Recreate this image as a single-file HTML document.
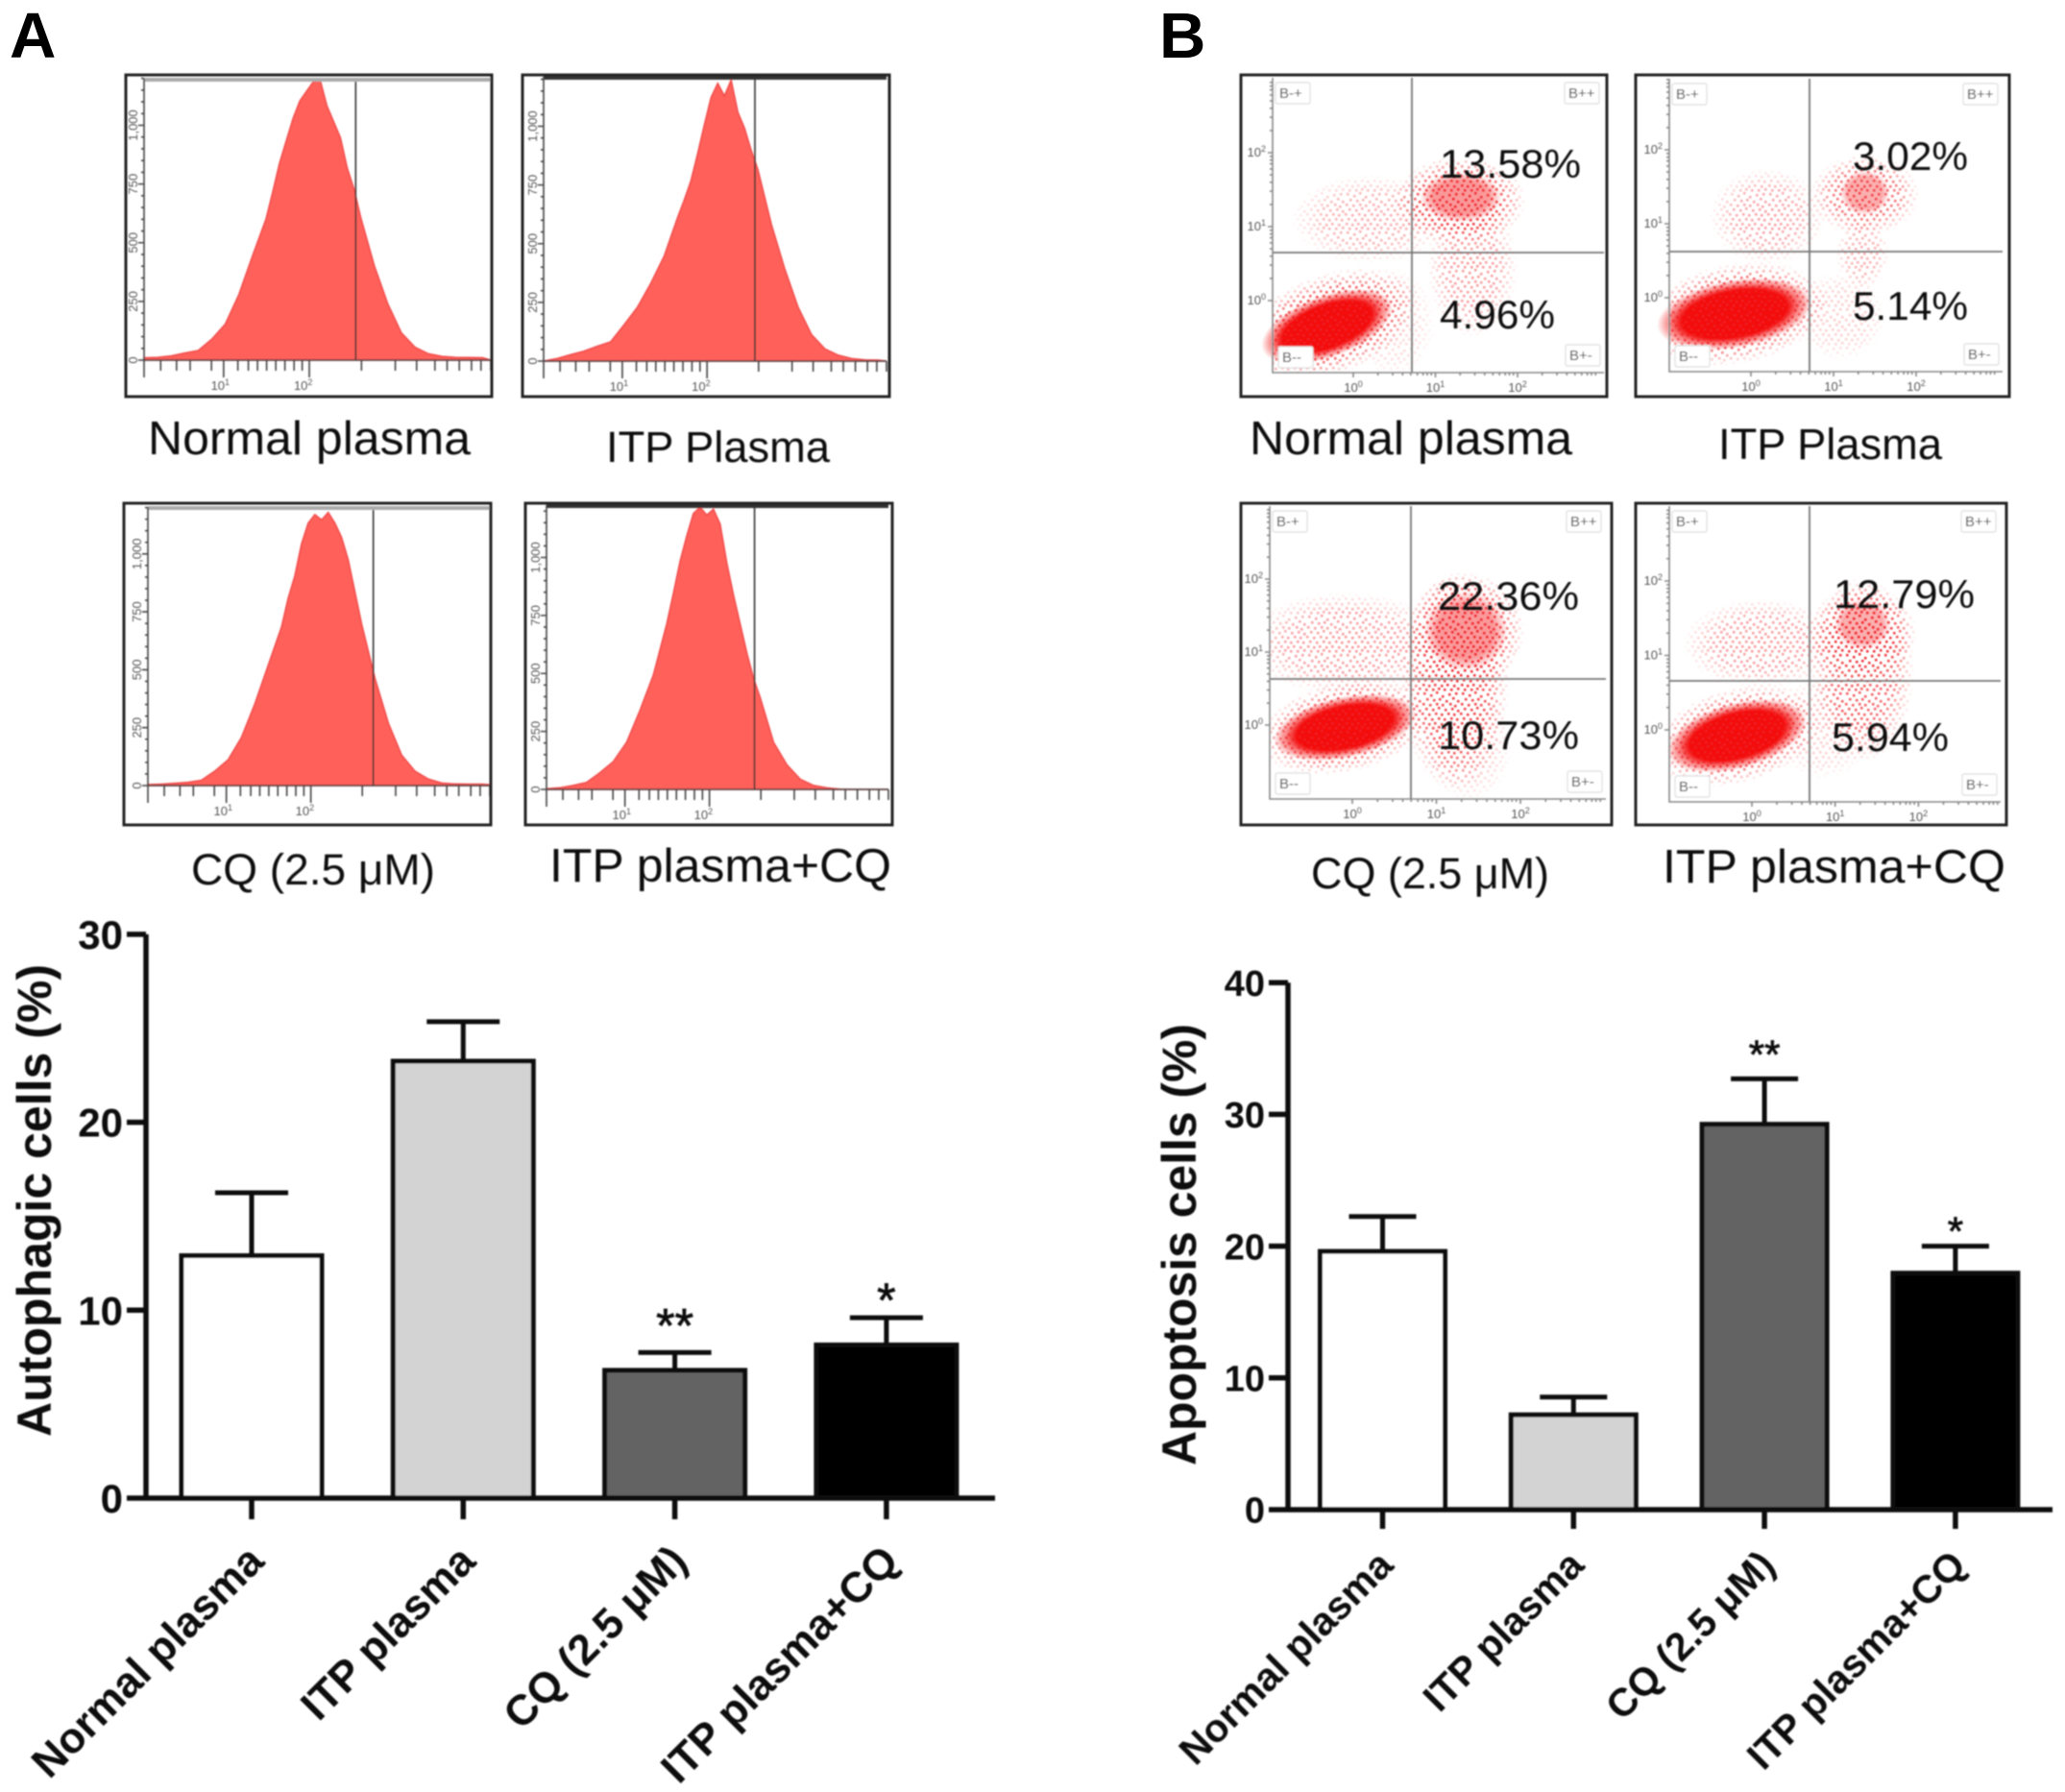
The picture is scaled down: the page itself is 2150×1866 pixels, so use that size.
<!DOCTYPE html>
<html lang="en">
<head>
<meta charset="utf-8">
<title>Autophagy and apoptosis figure</title>
<style>
html,body{margin:0;padding:0;background:#fff;}
svg{display:block;font-family:"Liberation Sans",Arial,sans-serif;}
.cap{font-size:46px;fill:#0d0d0d;filter:url(#soft);}
.pct{font-size:42px;fill:#0d0d0d;filter:url(#soft);}
.tiny{font-size:13px;fill:#555;}
</style>
</head>
<body>
<svg id="root" xmlns="http://www.w3.org/2000/svg" width="2150" height="1866" viewBox="0 0 2150 1866">
<defs>
  <filter id="soft" x="-5%" y="-5%" width="110%" height="110%"><feGaussianBlur stdDeviation="0.7"/></filter>
  <radialGradient id="fadeRed">
    <stop offset="0" stop-color="#f40f0f"/>
    <stop offset="0.68" stop-color="#f40f0f"/>
    <stop offset="1" stop-color="#f40f0f" stop-opacity="0"/>
  </radialGradient>
  <radialGradient id="fadeWhite">
    <stop offset="0" stop-color="#fff"/>
    <stop offset="0.6" stop-color="#fff" stop-opacity="0.85"/>
    <stop offset="1" stop-color="#fff" stop-opacity="0"/>
  </radialGradient>
  <pattern id="speckle" width="40" height="40" patternUnits="userSpaceOnUse">
    <path fill="#ee1e22" d="M2 1h2.5v2.5h-2.5zM9 3h2.5v2.5h-2.5zM15 0h2.5v2.5h-2.5zM21 4h2.5v2.5h-2.5zM28 2h2.5v2.5h-2.5zM35 1h2.5v2.5h-2.5zM5 7h2.5v2.5h-2.5zM12 8h2.5v2.5h-2.5zM18 7h2.5v2.5h-2.5zM25 9h2.5v2.5h-2.5zM32 6h2.5v2.5h-2.5zM37 9h2.5v2.5h-2.5zM1 12h2.5v2.5h-2.5zM8 13h2.5v2.5h-2.5zM15 12h2.5v2.5h-2.5zM21 13h2.5v2.5h-2.5zM29 12h2.5v2.5h-2.5zM34 14h2.5v2.5h-2.5zM4 17h2.5v2.5h-2.5zM11 18h2.5v2.5h-2.5zM17 16h2.5v2.5h-2.5zM24 18h2.5v2.5h-2.5zM31 17h2.5v2.5h-2.5zM37 19h2.5v2.5h-2.5zM0 22h2.5v2.5h-2.5zM7 23h2.5v2.5h-2.5zM14 22h2.5v2.5h-2.5zM20 23h2.5v2.5h-2.5zM27 22h2.5v2.5h-2.5zM33 23h2.5v2.5h-2.5zM3 27h2.5v2.5h-2.5zM10 28h2.5v2.5h-2.5zM17 27h2.5v2.5h-2.5zM23 28h2.5v2.5h-2.5zM30 27h2.5v2.5h-2.5zM36 28h2.5v2.5h-2.5zM1 32h2.5v2.5h-2.5zM7 33h2.5v2.5h-2.5zM13 32h2.5v2.5h-2.5zM20 33h2.5v2.5h-2.5zM26 32h2.5v2.5h-2.5zM33 33h2.5v2.5h-2.5zM4 37h2.5v2.5h-2.5zM11 37h2.5v2.5h-2.5zM17 36h2.5v2.5h-2.5zM23 37h2.5v2.5h-2.5zM30 37h2.5v2.5h-2.5zM37 36h2.5v2.5h-2.5z"/>
  </pattern>
</defs>

<rect x="0" y="0" width="2150" height="1866" fill="#fff"/>

<text x="10" y="60" font-size="67" font-weight="700" fill="#000">A</text>
<text x="1207" y="60" font-size="67" font-weight="700" fill="#000">B</text>

<g id="histograms" filter="url(#soft)"></g>
<g id="scatters" filter="url(#soft)"></g>

<g>
  <text class="cap" x="154" y="473" style="font-size:49px" textLength="336" lengthAdjust="spacingAndGlyphs">Normal plasma</text>
  <text class="cap" x="631" y="481" style="font-size:45px" textLength="233" lengthAdjust="spacingAndGlyphs">ITP Plasma</text>
  <text class="cap" x="199" y="921" style="font-size:45px" textLength="254" lengthAdjust="spacingAndGlyphs">CQ (2.5 μM)</text>
  <text class="cap" x="572" y="918" style="font-size:49px" textLength="356" lengthAdjust="spacingAndGlyphs">ITP plasma+CQ</text>
</g>
<g>
  <text class="cap" x="1301" y="473" style="font-size:49px" textLength="336" lengthAdjust="spacingAndGlyphs">Normal plasma</text>
  <text class="cap" x="1789" y="478" style="font-size:45px" textLength="233" lengthAdjust="spacingAndGlyphs">ITP Plasma</text>
  <text class="cap" x="1365" y="925" style="font-size:45px" textLength="248" lengthAdjust="spacingAndGlyphs">CQ (2.5 μM)</text>
  <text class="cap" x="1731" y="919" style="font-size:49px" textLength="357" lengthAdjust="spacingAndGlyphs">ITP plasma+CQ</text>
</g>

<g>
  <text class="pct" x="1499" y="185" textLength="147" lengthAdjust="spacingAndGlyphs">13.58%</text>
  <text class="pct" x="1499" y="342" textLength="120" lengthAdjust="spacingAndGlyphs">4.96%</text>
  <text class="pct" x="1929" y="177" textLength="120" lengthAdjust="spacingAndGlyphs">3.02%</text>
  <text class="pct" x="1929" y="333" textLength="120" lengthAdjust="spacingAndGlyphs">5.14%</text>
  <text class="pct" x="1497" y="635" textLength="147" lengthAdjust="spacingAndGlyphs">22.36%</text>
  <text class="pct" x="1497" y="780" textLength="147" lengthAdjust="spacingAndGlyphs">10.73%</text>
  <text class="pct" x="1909" y="633" textLength="147" lengthAdjust="spacingAndGlyphs">12.79%</text>
  <text class="pct" x="1907" y="782" textLength="122" lengthAdjust="spacingAndGlyphs">5.94%</text>
</g>

<g id="barA" filter="url(#soft)"></g>
<g id="barB" filter="url(#soft)"></g>
</svg>

<script>
/* ---------- Bar chart data ---------- */
const barCategories = ['Normal plasma', 'ITP plasma', 'CQ (2.5 μM)', 'ITP plasma+CQ'];
const barFills = ['#ffffff', '#d3d3d3', '#636363', '#000000'];
const barStars = ['', '', '**', '*'];
const autophagicMeans = [12.9, 23.25, 6.8, 8.15];
const autophagicErrors = [3.35, 2.1, 0.95, 1.45];
const autophagicTicks = [0, 10, 20, 30];
const apoptosisMeans = [19.6, 7.2, 29.25, 17.95];
const apoptosisErrors = [2.65, 1.35, 3.45, 2.05];
const apoptosisTicks = [0, 10, 20, 30, 40];

/* ---------- Histogram data (counts per channel bin) ---------- */
const histChannels = [0,40,80,120,160,200,240,280,320,360,380,400,420,440,460,480,500,520,540,560,580,600,620,640,680,720,760,800,840,880,920,960,1000,1024];
const histNormal = [10,12,18,30,41,89,154,279,443,600,716,838,934,1029,1104,1145,1186,1193,1083,1015,947,818,729,607,402,239,116,55,27,16,12,11,10,0];
const histItp = [0,11,27,42,63,82,154,229,331,447,529,611,686,768,883,1006,1122,1183,1129,1197,1060,992,897,815,583,393,229,113,52,25,11,5,4,0];
const histCq = [4,6,10,14,23,62,111,207,352,518,601,684,808,905,1043,1133,1170,1147,1179,1133,1071,974,836,698,463,270,131,62,28,11,7,6,6,4];
const histItpCq = [3,7,17,30,72,120,203,341,493,713,845,983,1093,1190,1217,1183,1208,1144,976,838,713,589,479,396,203,106,44,17,7,1,0,0,0,0];
const histCountTicks = [0, 250, 500, 750, 1000];
const histCountLabels = ['0', '250', '500', '750', '1,000'];
const histMinorChannels = [0,49,96,136,199,235,277,308,335,362,389,416,443,467,488,642,742,805,859,895,931,967,995,1024];
const histDecadeChannels = [225, 470];
const histDecadeLabels = ['1', '2'];

/* ---------- Flow cytometry clouds, in log10 fluorescence units ---------- */
/* each row: log x, log y, spread x, spread y, tilt, density */
const denseNormal = [[-.32,-.35,.84,.42,-20,1],[1.31,1.40,.5,.34,0,.4]];
const sparseNormal = [[-.30,-.33,1.15,.68,-20,1],[1.30,1.35,.8,.6,0,1],[.2,1.1,.95,.6,0,.4],[1.45,.45,.55,.95,0,.5],[.5,-.3,.5,.75,0,.2]];
const denseItp = [[-.2,-.22,.95,.46,-10,1],[1.38,1.42,.3,.3,0,.35]];
const sparseItp = [[-.2,-.22,1.15,.68,-10,1],[1.38,1.39,.66,.55,0,.75],[.2,1.1,.7,.65,0,.45],[1.35,.6,.32,.5,0,.4],[1.08,-.25,.55,.6,0,.25]];
const denseCq = [[-.09,-.03,.86,.42,-12,1],[1.35,1.29,.5,.55,0,.4]];
const sparseCq = [[-.09,-.03,1.05,.62,-12,1],[1.35,1.29,.7,.8,0,1],[1.22,.6,.65,1.5,0,.95],[-.09,1.12,1.2,.7,0,.5],[1.4,-.3,.5,.75,0,.25]];
const denseItpCq = [[-.18,-.08,.86,.44,-15,1],[1.33,1.42,.34,.34,0,.35]];
const sparseItpCq = [[-.18,-.08,1.05,.64,-15,1],[1.33,1.3,.65,.65,0,.9],[1.33,.81,.62,1.25,0,.8],[.12,1.16,.95,.6,0,.5],[.85,.03,.6,.7,0,.25]];
const scatterDecades = [0, 1, 2];

const NS = 'http://www.w3.org/2000/svg';
function el(tag, attrs, parent) {
  const n = document.createElementNS(NS, tag);
  for (const k in attrs) n.setAttribute(k, attrs[k]);
  parent.appendChild(n);
  return n;
}
function powerLabel(textEl, exponent) {
  textEl.textContent = '10';
  const sup = el('tspan', {dy: -5, 'font-size': 9}, textEl);
  sup.textContent = exponent;
}

/* ---------- Bar charts ---------- */
function drawBarChart(root, g, means, errors, ticks, title) {
  const y = v => g.y0 - v * g.unit;
  const x = i => g.cx0 + i * g.step;
  const series = el('g', {}, root);
  
  
  means.forEach((m, i) => {
    const errLine = el('path', {d: `M${x(i)} ${y(m)}V${y(m + errors[i])}M${x(i) - g.cap} ${y(m + errors[i])}H${x(i) + g.cap}`, fill: 'none', stroke: '#111', 'stroke-width': 5}, series);
    
    
    const bar = el('rect', {x: x(i) - g.bw / 2, y: y(m), width: g.bw, height: g.y0 - y(m), fill: barFills[i], stroke: '#111', 'stroke-width': 5}, series);
    
    
    if (barStars[i]) {
      const gap = barStars[i].length === 2 ? 11 : 1;
      const s = el('text', {x: x(i), y: y(m + errors[i]) - gap, 'text-anchor': 'middle', 'font-size': g.starSize, fill: '#111', stroke: '#111', 'stroke-width': 0.8}, series);
      
      
      s.textContent = barStars[i];
    }
    const lab = el('text', {transform: `translate(${x(i) + g.labDx} ${g.y0 + g.labDy}) rotate(-45)`, 'text-anchor': 'end', 'font-size': g.catSize, 'font-weight': 700, fill: '#111'}, series);
    
    
    lab.textContent = barCategories[i];
  });
  let d = `M${g.axisX} ${y(ticks[ticks.length - 1])}V${g.y0}M${g.axisX - 20} ${g.y0}H${g.xEnd}`;
  ticks.forEach(t => { d += `M${g.axisX - 20} ${y(t)}H${g.axisX}`; });
  means.forEach((m, i) => { d += `M${x(i)} ${g.y0}v${g.tick}`; });
  const axes = el('path', {d: d, fill: 'none', stroke: '#111', 'stroke-width': 5.5}, root);
  
  
  ticks.forEach(t => {
    const tl = el('text', {x: g.axisX - 24, y: y(t) + g.tickSize * 0.36, 'text-anchor': 'end', 'font-size': g.tickSize, 'font-weight': 700, fill: '#111'}, root);
    
    
    tl.textContent = t;
  });
  const yt = el('text', {transform: `translate(${g.titleX} ${g.titleY}) rotate(-90)`, 'text-anchor': 'middle', 'font-size': 50, 'font-weight': 700, fill: '#111', textLength: g.titleLen, lengthAdjust: 'spacingAndGlyphs'}, root);
  
  
  yt.textContent = title;
}

drawBarChart(document.getElementById('barA'),
  {y0: 1560, unit: 19.57, cx0: 262, step: 220.3, bw: 146, cap: 38, axisX: 152, xEnd: 1036, tick: 22, starSize: 50, labDx: 15, labDy: 68, catSize: 44.5, tickSize: 42, titleX: 53, titleY: 1250, titleLen: 492},
  autophagicMeans, autophagicErrors, autophagicTicks, 'Autophagic cells (%)');
drawBarChart(document.getElementById('barB'),
  {y0: 1572, unit: 13.72, cx0: 1439.5, step: 198.8, bw: 130, cap: 35, axisX: 1341, xEnd: 2137, tick: 20, starSize: 42, labDx: 13, labDy: 60, catSize: 41, tickSize: 38, titleX: 1245, titleY: 1296, titleLen: 460},
  apoptosisMeans, apoptosisErrors, apoptosisTicks, 'Apoptosis cells (%)');

/* ---------- Histograms ---------- */
function drawHistogram(parent, name, p, counts) {
  const hx = c => p.left + (c / 1024) * (p.right - p.left);
  const hy = n => p.base - n * p.scale;
  const g = el('g', {}, parent);
  
  
  let d = `M${hx(histChannels[0])} ${p.base}`;
  histChannels.forEach((c, i) => { d += `L${hx(c)} ${hy(counts[i])}`; });
  d += `L${hx(histChannels[histChannels.length - 1])} ${p.base}Z`;
  const area = el('path', {d: d, fill: '#ff605a', stroke: '#f14a4a', 'stroke-width': 1.5}, g);
  
  
  const cursor = el('path', {d: `M${hx(p.gate)} ${p.top + 4}V${p.base}`, stroke: '#333', 'stroke-width': 1.6, fill: 'none'}, g);
  
  
  const band = el('path', {d: `M${p.left} ${p.top + 5}H${p.right}`, stroke: p.bandColor, 'stroke-width': 4, fill: 'none'}, g);
  
  
  let ax = `M${p.left} ${p.top + 4}V${p.base}M${p.left - 3} ${p.base}H${p.right}`;
  for (let n = 0; n <= 1200; n += 50) ax += `M${p.left - (n % 250 === 0 ? 6 : 3)} ${hy(n)}H${p.left}`;
  histMinorChannels.forEach(c => { ax += `M${hx(c)} ${p.base}v${c === 0 || c === 235 || c === 488 ? 18 : 11}`; });
  const axes = el('path', {d: ax, stroke: '#444', 'stroke-width': 1.6, fill: 'none'}, g);
  
  
  histCountTicks.forEach((t, i) => {
    const tl = el('text', {class: 'tiny', transform: `translate(${p.left - 7} ${hy(t)}) rotate(-90)`, 'text-anchor': 'middle'}, g);
    
    
    tl.textContent = histCountLabels[i];
  });
  histDecadeChannels.forEach((c, i) => {
    const tl = el('text', {class: 'tiny', x: hx(c), y: p.base + 31, 'text-anchor': 'middle'}, g);
    
    
    powerLabel(tl, histDecadeLabels[i]);
  });
  const frame = el('rect', {x: p.fx, y: p.fy, width: p.fw, height: p.fh, fill: 'none', stroke: '#222', 'stroke-width': 3}, g);
  
  
}
const histRoot = document.getElementById('histograms');
drawHistogram(histRoot, 'histogram-normal-plasma', {left: 150, right: 511, base: 375, top: 78, scale: 0.2445, gate: 625, bandColor: '#aaa', fx: 131, fy: 78, fw: 381, fh: 335}, histNormal);
drawHistogram(histRoot, 'histogram-itp-plasma', {left: 566, right: 923, base: 376, top: 76, scale: 0.2445, gate: 631, bandColor: '#333', fx: 544, fy: 78, fw: 382, fh: 335}, histItp);
drawHistogram(histRoot, 'histogram-cq', {left: 154, right: 510, base: 818, top: 524, scale: 0.2412, gate: 675, bandColor: '#aaa', fx: 129, fy: 524, fw: 382, fh: 335}, histCq);
drawHistogram(histRoot, 'histogram-itp-plasma-cq', {left: 569, right: 925, base: 822, top: 522, scale: 0.2415, gate: 623, bandColor: '#333', fx: 547, fy: 524, fw: 382, fh: 335}, histItpCq);

/* ---------- Scatter plots ---------- */
let scatterCount = 0;
function drawScatter(parent, name, p, dense, sparse) {
  const sx = v => p.x0 + v * p.dx;
  const sy = v => p.y0 - v * p.dy;
  scatterCount += 1;
  const g = el('g', {}, parent);
  
  
  const mask = el('mask', {id: 'cloud' + scatterCount, maskUnits: 'userSpaceOnUse', x: 0, y: 0, width: 2150, height: 1866}, g);
  sparse.forEach(c => {
    const m = el('ellipse', {cx: sx(c[0]), cy: sy(c[1]), rx: c[2] * p.dx, ry: c[3] * p.dy, fill: 'url(#fadeWhite)', 'fill-opacity': c[5], transform: `rotate(${c[4]} ${sx(c[0])} ${sy(c[1])})`}, mask);
    
    
  });
  dense.forEach(c => {
    const e = el('ellipse', {cx: sx(c[0]), cy: sy(c[1]), rx: c[2] * p.dx, ry: c[3] * p.dy, fill: 'url(#fadeRed)', opacity: c[5], transform: `rotate(${c[4]} ${sx(c[0])} ${sy(c[1])})`}, g);
    
    
  });
  const sp = el('rect', {x: p.left, y: p.top, width: p.right - p.left, height: p.bottom - p.top, fill: 'url(#speckle)', mask: `url(#cloud${scatterCount})`}, g);
  
  
  const quad = el('path', {d: `M${p.vx} ${p.top}V${p.bottom}M${p.left} ${p.hy}H${p.right}`, stroke: '#777', 'stroke-width': 1.8, fill: 'none'}, g);
  
  
  let ax = `M${p.left} ${p.top}V${p.bottom}H${p.right}`;
  scatterDecades.forEach(v => {
    ax += `M${p.left - 5} ${sy(v)}H${p.left}M${sx(v)} ${p.bottom}v5`;
    [.3, .48, .6, .7, .78, .85, .9, .95].forEach(f => { ax += `M${p.left - 3} ${sy(v + f)}H${p.left}M${sx(v + f)} ${p.bottom}v3`; });
  });
  const axes = el('path', {d: ax, stroke: '#888', 'stroke-width': 1.6, fill: 'none'}, g);
  
  
  scatterDecades.forEach(v => {
    const ty = el('text', {class: 'tiny', x: p.left - 7, y: sy(v) + 4, 'text-anchor': 'end'}, g);
    
    
    powerLabel(ty, v);
    const tx = el('text', {class: 'tiny', x: sx(v), y: p.bottom + 20, 'text-anchor': 'middle'}, g);
    
    
    powerLabel(tx, v);
  });
  [['B-+', p.left + 3, p.top + 5], ['B++', p.right - 41, p.top + 5], ['B--', p.left + 6, p.bottom - 27], ['B+-', p.right - 40, p.bottom - 29]].forEach(q => {
    const box = el('rect', {x: q[1], y: q[2], width: 36, height: 22, rx: 2, fill: '#fff', stroke: '#ddd', 'stroke-width': 1.2}, g);
    
    
    const tag = el('text', {x: q[1] + 4, y: q[2] + 16, 'font-size': 15, fill: '#444'}, g);
    
    
    tag.textContent = q[0];
  });
  const frame = el('rect', {x: p.fx, y: p.fy, width: p.fw, height: p.fh, fill: 'none', stroke: '#222', 'stroke-width': 3}, g);
  
  
}
const scatterRoot = document.getElementById('scatters');
drawScatter(scatterRoot, 'scatter-normal-plasma', {x0: 1409, dx: 85.5, y0: 313, dy: 77, left: 1325, right: 1670, top: 81, bottom: 388, vx: 1470, hy: 263, fx: 1292, fy: 78, fw: 381, fh: 335}, denseNormal, sparseNormal);
drawScatter(scatterRoot, 'scatter-itp-plasma', {x0: 1823, dx: 86, y0: 310, dy: 77, left: 1738, right: 2085, top: 82, bottom: 387, vx: 1884, hy: 262, fx: 1703, fy: 78, fw: 389, fh: 335}, denseItp, sparseItp);
drawScatter(scatterRoot, 'scatter-cq', {x0: 1408, dx: 87.5, y0: 755, dy: 76, left: 1322, right: 1672, top: 527, bottom: 832, vx: 1469, hy: 707, fx: 1292, fy: 524, fw: 386, fh: 335}, denseCq, sparseCq);
drawScatter(scatterRoot, 'scatter-itp-plasma-cq', {x0: 1824, dx: 86.7, y0: 760, dy: 77.5, left: 1738, right: 2083, top: 527, bottom: 835, vx: 1884, hy: 709, fx: 1703, fy: 524, fw: 386, fh: 335}, denseItpCq, sparseItpCq);
</script>
</body>
</html>
